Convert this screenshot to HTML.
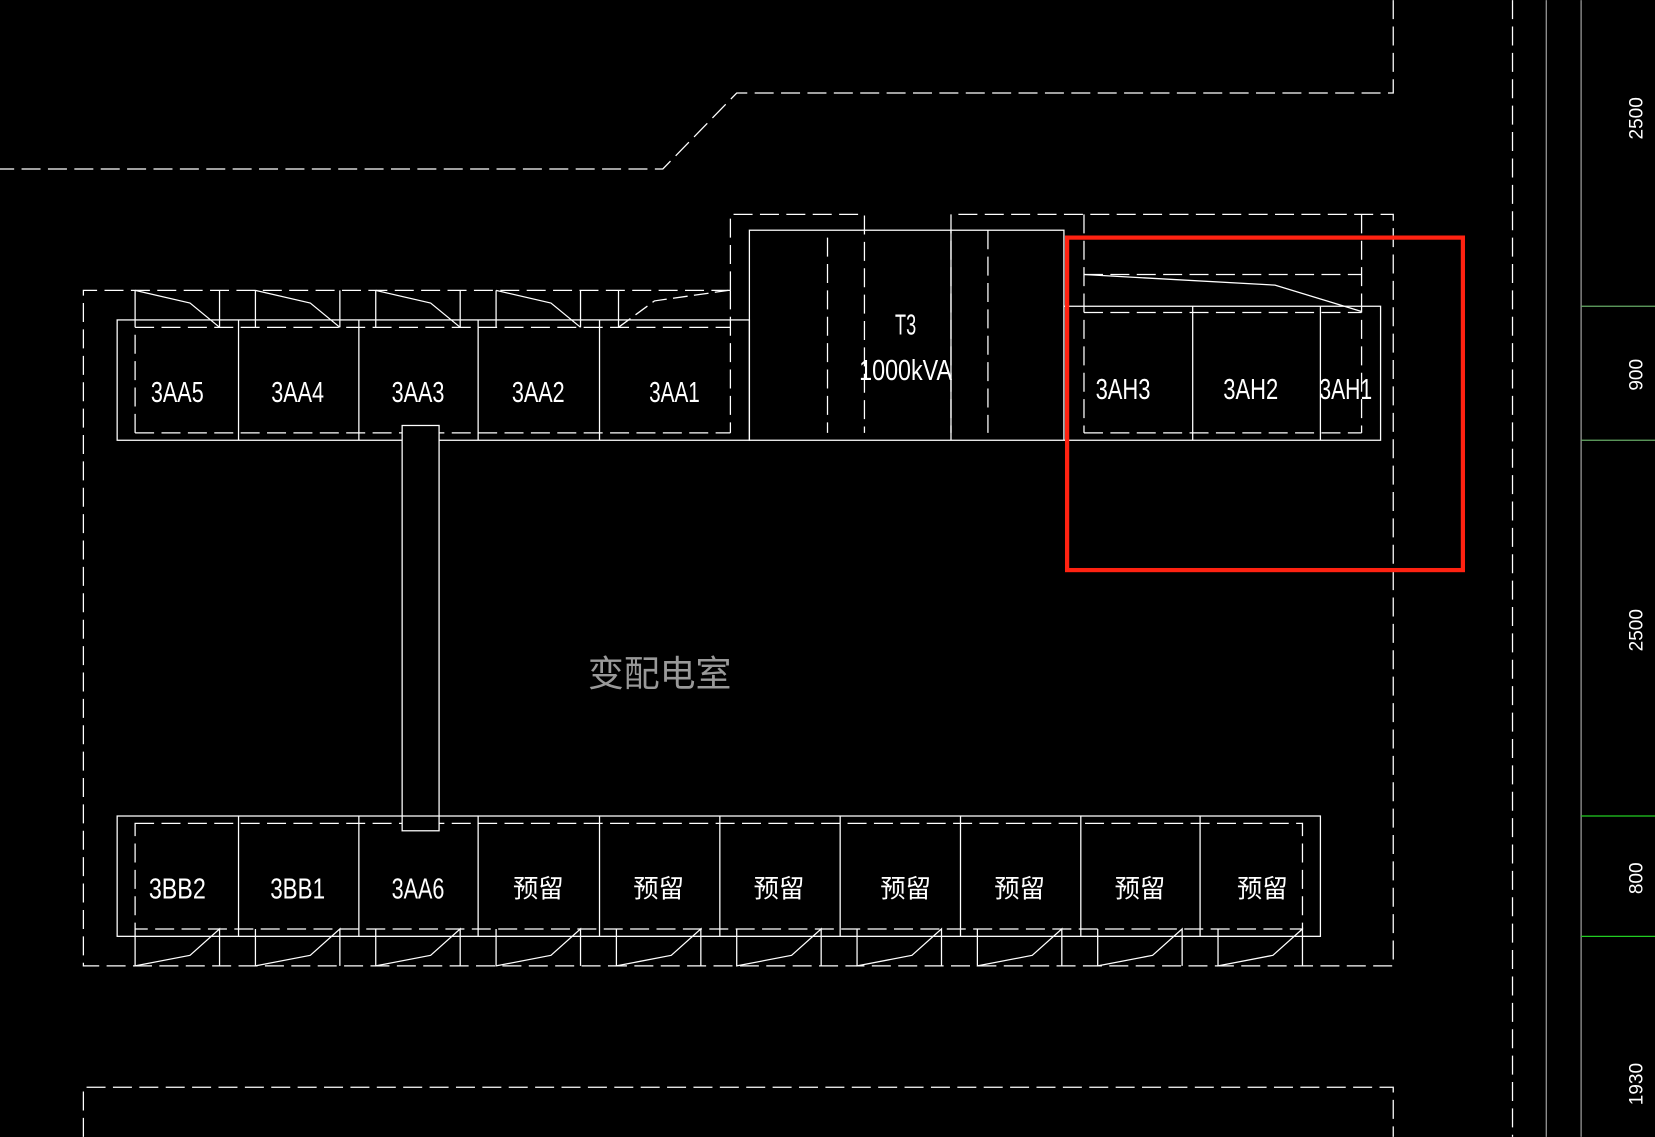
<!DOCTYPE html>
<html><head><meta charset="utf-8"><style>
html,body{margin:0;padding:0;background:#000;width:1655px;height:1137px;overflow:hidden}
svg{display:block}
text{font-family:"Liberation Sans","Noto Sans CJK SC",sans-serif;fill:#fff}
</style></head><body>
<svg width="1655" height="1137" viewBox="0 0 1568 1077" xmlns="http://www.w3.org/2000/svg">
<g fill="none" stroke="#fff" stroke-width="1.2">
 <g stroke-dasharray="18,7">
  <polyline points="1320,0 1320,88 698,88 628,160 0,160"/>
  <polyline points="692,275 79,275 79,915 1320,915 1320,203 901,203 901,410"/>
  <polyline points="692,275 692,203 819,203 819,410"/>
  <line x1="784" y1="225" x2="784" y2="410"/>
  <line x1="936" y1="218" x2="936" y2="410"/>
  <line x1="1027" y1="203" x2="1027" y2="410"/>
  <line x1="1290" y1="203" x2="1290" y2="410"/>
  <line x1="1027" y1="260" x2="1290" y2="260"/>
  <line x1="1027" y1="296" x2="1290" y2="296"/>
  <line x1="1027" y1="410" x2="1290" y2="410"/>
  <polyline points="79,1077 79,1030 1320,1030 1320,1077"/>
  <line x1="1433" y1="0" x2="1433" y2="1077"/>
  <polyline points="128,410 128,310 692,310"/>
  <line x1="128" y1="410" x2="692" y2="410"/>
  <line x1="692" y1="275" x2="692" y2="410"/>
  <rect x="128" y="780" width="1106" height="100"/>
 </g>
 <line x1="1465" y1="0" x2="1465" y2="1077" stroke="#999"/>
 <line x1="1498" y1="0" x2="1498" y2="1077" stroke="#999"/>
 <g stroke="#2c2">
  <line x1="1498" y1="290" x2="1568" y2="290" stroke="#6a6"/>
  <line x1="1498" y1="417" x2="1568" y2="417" stroke="#6a6"/>
  <line x1="1498" y1="773" x2="1568" y2="773"/>
  <line x1="1498" y1="887" x2="1568" y2="887"/>
 </g>
 <rect x="111" y="303" width="599" height="114"/>
 <line x1="226" y1="303" x2="226" y2="417"/>
 <line x1="340" y1="303" x2="340" y2="417"/>
 <line x1="453" y1="303" x2="453" y2="417"/>
 <line x1="568" y1="303" x2="568" y2="417"/>
 <rect x="710" y="218" width="298" height="199"/>
 <line x1="901" y1="218" x2="901" y2="417"/>
 <polyline points="1008,290 1308,290 1308,417 1008,417"/>
 <line x1="1130" y1="290" x2="1130" y2="417"/>
 <line x1="1251" y1="290" x2="1251" y2="417"/>
 <polyline points="1027,260 1208,270 1290,295"/>
 <g>
  <polyline points="128,275 180,287 208,310"/>
  <polyline points="242,275 294,287 322,310"/>
  <polyline points="356,275 408,287 436,310"/>
  <polyline points="470,275 522,287 550,310"/>
  <polyline points="586,310 620,285 690,275" stroke-dasharray="14,6"/>
  <line x1="128" y1="275" x2="128" y2="310"/><line x1="208" y1="275" x2="208" y2="310"/>
  <line x1="242" y1="275" x2="242" y2="310"/><line x1="322" y1="275" x2="322" y2="310"/>
  <line x1="356" y1="275" x2="356" y2="310"/><line x1="436" y1="275" x2="436" y2="310"/>
  <line x1="470" y1="275" x2="470" y2="310"/><line x1="550" y1="275" x2="550" y2="310"/>
  <line x1="586" y1="275" x2="586" y2="310"/>
 </g>
 <rect x="381" y="403" width="35" height="384" fill="#000"/>
 <rect x="111" y="773" width="1140" height="114"/>
 <g>
  <line x1="226" y1="773" x2="226" y2="887"/><line x1="340" y1="773" x2="340" y2="887"/>
  <line x1="453" y1="773" x2="453" y2="887"/><line x1="568" y1="773" x2="568" y2="887"/>
  <line x1="682" y1="773" x2="682" y2="887"/><line x1="796" y1="773" x2="796" y2="887"/>
  <line x1="910" y1="773" x2="910" y2="887"/><line x1="1024" y1="773" x2="1024" y2="887"/>
  <line x1="1137" y1="773" x2="1137" y2="887"/>
 </g>
 <g>
  <path d="M128 880V915L180 905L208 880V915"/>
  <path d="M242 880V915L294 905L322 880V915"/>
  <path d="M356 880V915L408 905L436 880V915"/>
  <path d="M470 880V915L522 905L550 880V915"/>
  <path d="M584 880V915L636 905L664 880V915"/>
  <path d="M698 880V915L750 905L778 880V915"/>
  <path d="M812 880V915L864 905L892 880V915"/>
  <path d="M926 880V915L978 905L1006 880V915"/>
  <path d="M1040 880V915L1092 905L1120 880V915"/>
  <path d="M1154 880V915L1206 905L1234 880V915"/>
 </g>
 <rect x="1011" y="225" width="375" height="315" stroke="#f21" stroke-width="4"/>
</g>
<g font-size="27">
 <text x="168" y="381" text-anchor="middle" textLength="50" lengthAdjust="spacingAndGlyphs">3AA5</text>
 <text x="282" y="381" text-anchor="middle" textLength="50" lengthAdjust="spacingAndGlyphs">3AA4</text>
 <text x="396" y="381" text-anchor="middle" textLength="50" lengthAdjust="spacingAndGlyphs">3AA3</text>
 <text x="510" y="381" text-anchor="middle" textLength="50" lengthAdjust="spacingAndGlyphs">3AA2</text>
 <text x="639" y="381" text-anchor="middle" textLength="48" lengthAdjust="spacingAndGlyphs">3AA1</text>
 <text x="858" y="317" text-anchor="middle" textLength="20" lengthAdjust="spacingAndGlyphs">T3</text>
 <text x="858" y="360" text-anchor="middle" textLength="88" lengthAdjust="spacingAndGlyphs">1000kVA</text>
 <text x="1064" y="378" text-anchor="middle" textLength="52" lengthAdjust="spacingAndGlyphs">3AH3</text>
 <text x="1185" y="378" text-anchor="middle" textLength="52" lengthAdjust="spacingAndGlyphs">3AH2</text>
 <text x="1275" y="378" text-anchor="middle" textLength="50" lengthAdjust="spacingAndGlyphs">3AH1</text>
 <text x="168" y="851" text-anchor="middle" textLength="54" lengthAdjust="spacingAndGlyphs">3BB2</text>
 <text x="282" y="851" text-anchor="middle" textLength="52" lengthAdjust="spacingAndGlyphs">3BB1</text>
 <text x="396" y="851" text-anchor="middle" textLength="50" lengthAdjust="spacingAndGlyphs">3AA6</text>
</g>
<g font-size="24">
 <text x="510" y="850" text-anchor="middle">预留</text>
 <text x="624" y="850" text-anchor="middle">预留</text>
 <text x="738" y="850" text-anchor="middle">预留</text>
 <text x="858" y="850" text-anchor="middle">预留</text>
 <text x="966" y="850" text-anchor="middle">预留</text>
 <text x="1080" y="850" text-anchor="middle">预留</text>
 <text x="1196" y="850" text-anchor="middle">预留</text>
</g>
<text x="625" y="650" text-anchor="middle" font-size="34" style="fill:#999">变配电室</text>
<g font-size="18">
 <text transform="translate(1556,112) rotate(-90)" text-anchor="middle">2500</text>
 <text transform="translate(1556,355) rotate(-90)" text-anchor="middle">900</text>
 <text transform="translate(1556,597) rotate(-90)" text-anchor="middle">2500</text>
 <text transform="translate(1556,832) rotate(-90)" text-anchor="middle">800</text>
 <text transform="translate(1556,1027) rotate(-90)" text-anchor="middle">1930</text>
</g>
</svg>
</body></html>
